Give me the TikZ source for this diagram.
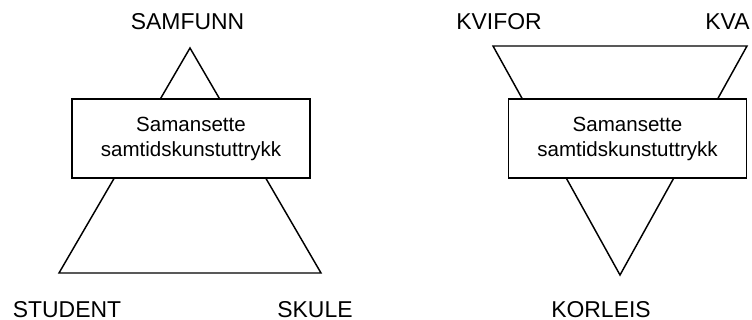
\documentclass[tikz,border=0pt]{standalone}
\usepackage{fontspec}
\setmainfont{Liberation Sans}
\begin{document}
\begin{tikzpicture}[x=0.75pt,y=-0.75pt,
  shape line/.style={line width=1.1pt,line join=miter},
  corner label/.style={anchor=base,inner sep=0pt,font=\fontsize{17.2}{20}\selectfont},
  textbox/.style={draw,fill=white,line width=1.1pt,minimum width=178.5pt,minimum height=59pt,
    align=center,inner sep=0pt,font=\fontsize{15.4}{18.8}\selectfont}]
\useasboundingbox (0,0) rectangle (752,320);

% upright triangle with its box
\draw[shape line] (190,48) -- (321,273) -- (59,273) -- cycle;
\node[textbox] (boxL) at (191,138.5) {Samansette\\samtidskunstuttrykk};
\node[corner label] (samfunn) at (187.5,30) {SAMFUNN};
\node[corner label] (student) at (67,317) {STUDENT};
\node[corner label] (skule) at (315,317) {SKULE};

% inverted triangle with its box
\draw[shape line] (493,46) -- (747,46) -- (620,275) -- cycle;
\node[textbox] (boxR) at (627.5,138.5) {Samansette\\samtidskunstuttrykk};
\node[corner label] (kvifor) at (499,30) {KVIFOR};
\node[corner label] (kva) at (727.5,30) {KVA};
\node[corner label] (korleis) at (601,317) {KORLEIS};
\end{tikzpicture}
\end{document}
